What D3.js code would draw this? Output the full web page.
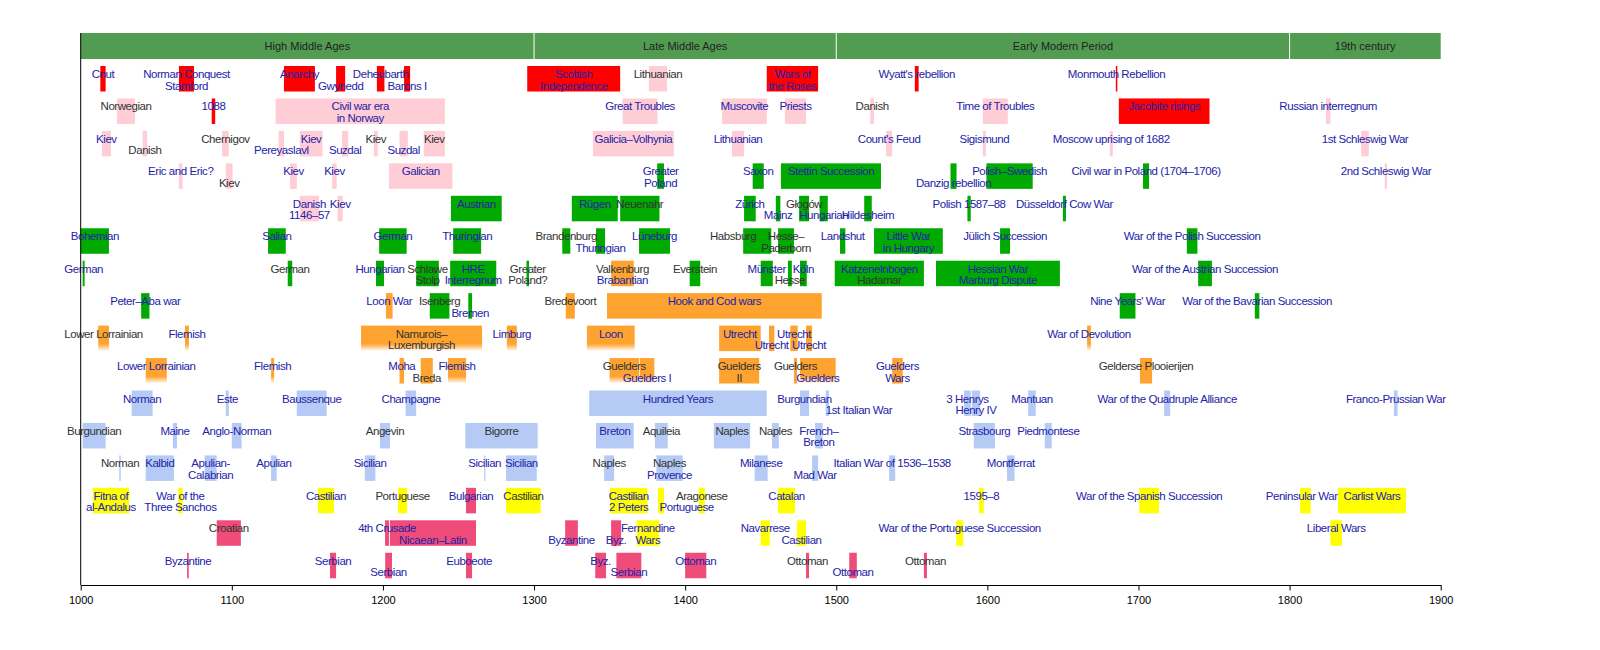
<!DOCTYPE html>
<html><head><meta charset="utf-8">
<script src="https://cdn.jsdelivr.net/npm/d3@7/dist/d3.min.js"></script>
<style>body{margin:0;background:#fff}svg{display:block}</style>
</head><body><svg id="chart" width="1600" height="650"></svg>
<script>
// ---- data ----
const periodNames = ["High Middle Ages", "Late Middle Ages", "Early Modern Period", "19th century"];
const periodStart = [1000, 1300, 1500, 1800];
const periodEnd = [1300, 1500, 1800, 1900];
const tickYears = [1000, 1100, 1200, 1300, 1400, 1500, 1600, 1700, 1800, 1900];
// each entry: [from, to, colour key, label ("|" = next line, leading "|" = second line only, "*" = plain text), optional label year]
const row01 = [
  [1013, 1016.5, "R", "Cnut"], [1065, 1075, "R", "Norman Conquest|Stamford"], [1134.5, 1155, "R", "Anarchy"],
  [1169, 1175, "R", "|Gwynedd"], [1196, 1201, "R", "Deheubarth"], [1214, 1218, "R", "|Barons I"],
  [1295.5, 1357, "R", "Scottish|Independence"], [1376, 1388, "P", "*Lithuanian"], [1454, 1488, "R", "Wars of|the Roses"],
  [1552, 1554.5, "R", "Wyatt's rebellion"], [1685, 1686, "R", "Monmouth Rebellion"]];
const row02 = [
  [1024, 1036, "P", "*Norwegian"], [1086.7, 1089, "R", "1088"], [1129, 1241, "P", "Civil war era|in Norway"],
  [1358.6, 1381.7, "P", "Great Troubles"], [1424.5, 1454, "P", "Muscovite"], [1466, 1480, "P", "Priests"],
  [1522.5, 1525, "P", "*Danish"], [1597, 1613.5, "P", "Time of Troubles"], [1687, 1747, "R", "Jacobite risings"],
  [1824, 1827, "P", "Russian interregnum"]];
const row03 = [
  [1014, 1020, "P", "Kiev"], [1041, 1044, "P", "|*Danish"], [1093.6, 1098, "P", "*Chernigov"],
  [1131, 1134.5, "P", "|Pereyaslavl"], [1145, 1160, "P", "Kiev"], [1173, 1177, "P", "|Suzdal"],
  [1194, 1196.6, "P", "*Kiev"], [1211, 1216.5, "P", "|Suzdal"], [1227, 1241, "P", "*Kiev"],
  [1339, 1392.5, "P", "Galicia–Volhynia"], [1431, 1439, "P", "Lithuanian"], [1533, 1537, "P", "Count's Feud"],
  [1597, 1599, "P", "Sigismund"], [1681, 1683, "P", "Moscow uprising of 1682"], [1847.4, 1852.4, "P", "1st Schleswig War"]];
const row04 = [
  [1065, 1067.4, "P", "Eric and Eric?"], [1096, 1100.5, "P", "|*Kiev"], [1138.6, 1143, "P", "Kiev"],
  [1166.4, 1169.4, "P", "Kiev"], [1204, 1246, "P", "Galician"], [1381.5, 1386, "G", "Greater|Poland"],
  [1444.7, 1452, "G", "Saxon"], [1463.4, 1529.6, "G", "Stettin Succession"], [1575.6, 1579.6, "G", "|Danzig rebellion"],
  [1599.4, 1630, "G", "Polish–Swedish"], [1703, 1707, "G", "Civil war in Poland (1704–1706)"],
  [1863, 1864.5, "P", "2nd Schleswig War"]];
const row05 = [
  [1145, 1157.7, "P", "Danish|1146–57"], [1170, 1173.4, "P", "Kiev"], [1245, 1278.6, "G", "Austrian"],
  [1325, 1355.4, "G", "Rügen"], [1357, 1383, "G", "*Neuenahr"], [1439, 1446.7, "G", "Zürich"],
  [1460, 1463, "G", "|Mainz"], [1475.4, 1482, "G", "*Głogów"], [1489, 1494.4, "G", "|Hungarian"],
  [1518.5, 1523.5, "G", "|Hildesheim"], [1586.8, 1589, "G", "Polish 1587–88"], [1650, 1652, "G", "Düsseldorf Cow War"]];
const row06 = [
  [1000, 1018.7, "G", "Bohemian"], [1124, 1135.7, "G", "Salian"], [1197.5, 1215.7, "G", "German"],
  [1246.5, 1265, "G", "Thuringian"], [1318.7, 1324, "G", "*Brandenburg"], [1341, 1347, "G", "|Thuringian"],
  [1369.5, 1390, "G", "Lüneburg"], [1438.4, 1457, "G", "*Habsburg", 1431.7], [1461.5, 1472, "G", "*Hesse–|*Paderborn"],
  [1502.5, 1506, "G", "Landshut"], [1525, 1570.5, "G", "Little War|in Hungary"], [1608.4, 1615, "G", "Jülich Succession"],
  [1732, 1739, "G", "War of the Polish Succession"]];
const row07 = [
  [1001.3, 1002.6, "G", "German"], [1137, 1140, "G", "*German"], [1195.4, 1200.7, "G", "Hungarian"],
  [1222, 1237, "G", "*Schlawe|*Stolp"], [1244.5, 1275, "G", "HRE|Interregnum"], [1295, 1296.7, "G", "*Greater|*Poland?"],
  [1351, 1366, "O", "*Valkenburg|Brabantian"], [1403, 1410, "G", "*Everstein"], [1450, 1458, "G", "Münster"],
  [1468, 1470.6, "G", "|*Hesse"], [1476, 1480.5, "G", "Köln"], [1499, 1558, "G", "Katzenelnbogen|*Hadamar"],
  [1566, 1648, "G", "Hessian War|Marburg Dispute"], [1739.5, 1748.6, "G", "War of the Austrian Succession"]];
const row08 = [
  [1040, 1045.5, "G", "Peter–Aba war"], [1202, 1206.4, "O", "Loon War"], [1231, 1244, "G", "*Isenberg"],
  [1256.5, 1259, "G", "|Bremen"], [1321, 1327, "O", "*Bredevoort"], [1348.3, 1490.4, "O", "Hook and Cod wars"],
  [1687.6, 1698, "G", "Nine Years' War"], [1777, 1780, "G", "War of the Bavarian Succession"]];
const row09 = [
  [1011.6, 1018.7, "Of", "*Lower Lorrainian"], [1069, 1071.6, "Of", "Flemish"],
  [1185.5, 1265.6, "Of", "*Namurois–|*Luxemburgish"], [1282, 1288.6, "Of", "Limburg"], [1335, 1366.6, "Of", "Loon"],
  [1422.5, 1450, "O", "Utrecht"], [1455.5, 1459, "O", "|Utrecht"], [1469.6, 1474.5, "O", "Utrecht"],
  [1480, 1484, "O", "|Utrecht"], [1666, 1668.5, "Of", "War of Devolution"]];
const row10 = [
  [1043, 1057, "Of", "Lower Lorrainian"], [1126, 1128, "Of", "Flemish"], [1211, 1214, "O", "Moha"],
  [1225, 1233, "O", "|*Breda"], [1243, 1255, "Of", "Flemish"], [1350, 1369.5, "Of", "*Guelders"],
  [1370, 1379.6, "Of", "|Guelders I"], [1422.5, 1449, "O", "*Guelders|*II"], [1472, 1474, "O", "*Guelders"],
  [1476, 1499.6, "Of", "|Guelders"], [1537, 1544, "O", "Guelders|Wars"], [1701, 1709, "O", "*Gelderse Plooierijen"]];
const row11 = [
  [1033.7, 1047.6, "L", "Norman"], [1096, 1098, "L", "Este"], [1143, 1162.8, "L", "Baussenque"],
  [1215, 1222, "L", "Champagne"], [1336.5, 1454, "L", "Hundred Years"], [1476, 1482, "L", "Burgundian"],
  [1493, 1495.2, "L", "|1st Italian War", 1515], [1584.6, 1589, "L", "3 Henrys"], [1589.7, 1595.2, "L", "|Henry IV"],
  [1627, 1632, "L", "Mantuan"], [1717, 1721, "L", "War of the Quadruple Alliance"], [1869, 1871.5, "L", "Franco-Prussian War"]];
const row12 = [
  [1001.3, 1016.5, "L", "*Burgundian"], [1061, 1063.7, "L", "Maine"], [1100, 1106.5, "L", "Anglo-Norman"],
  [1198, 1204.7, "L", "*Angevin"], [1254.5, 1302.4, "L", "*Bigorre"], [1341, 1366, "L", "Breton"],
  [1380, 1388.5, "L", "*Aquileia"], [1419, 1443, "L", "*Naples"], [1457.5, 1462, "L", "*Naples"],
  [1486, 1491, "L", "French–|Breton"], [1591, 1605, "L", "Strasbourg"], [1638, 1642.6, "L", "Piedmontese"]];
const row13 = [
  [1025.5, 1026.5, "L", "*Norman"], [1043, 1061.7, "L", "Kalbid"], [1082, 1090, "L", "Apulian-|Calabrian"],
  [1126, 1129.7, "L", "Apulian"], [1188, 1195, "L", "Sicilian"], [1267, 1267.6, "L", "Sicilian"],
  [1281.5, 1301.8, "L", "Sicilian"], [1346.4, 1353, "L", "*Naples"], [1381, 1398.4, "L", "*Naples|Provence"],
  [1446, 1454.6, "L", "Milanese"], [1484, 1488, "L", "|Mad War"], [1535, 1539, "L", "Italian War of 1536–1538"],
  [1613, 1618, "L", "Montferrat"]];
const row14 = [
  [1008, 1032, "Y", "Fitna of|al-Andalus"], [1064.5, 1067.5, "Y", "War of the|Three Sanchos"],
  [1157, 1167.6, "Y", "Castilian"], [1210, 1216, "Y", "*Portuguese"], [1255, 1261.6, "C", "Bulgarian"],
  [1281.5, 1304.4, "Y", "*Castilian"], [1350.3, 1375, "Y", "Castilian|2 Peters"], [1382, 1386, "Y", "|Portuguese", 1401],
  [1409, 1413, "Y", "*Aragonese"], [1461.5, 1472.7, "Y", "Catalan"], [1594.5, 1597.6, "Y", "1595–8"],
  [1700.5, 1713.6, "Y", "War of the Spanish Succession"], [1807, 1814, "Y", "Peninsular War", 1808],
  [1832, 1877, "Y", "Carlist Wars"]];
const row15 = [
  [1090, 1106, "C", "*Croatian"], [1201.4, 1204, "C", "4th Crusade"], [1204.6, 1261.6, "C", "|Nicaean–Latin"],
  [1320.6, 1329, "C", "|Byzantine"], [1351, 1357.6, "C", "|Byz."], [1368, 1382.7, "Y", "Fernandine|Wars"],
  [1450, 1456, "Y", "Navarrese"], [1474, 1480, "Y", "|Castilian"], [1579.4, 1584, "Y", "War of the Portuguese Succession"],
  [1827, 1834.7, "Y", "Liberal Wars"]];
const row16 = [
  [1070.4, 1071.5, "C", "Byzantine"], [1165, 1169, "C", "Serbian"], [1201.5, 1206, "C", "|Serbian"],
  [1255, 1259, "C", "Euboeote"], [1340.5, 1347.6, "C", "Byz."], [1354.5, 1371, "C", "|Serbian"],
  [1400, 1414, "C", "Ottoman"], [1480, 1482, "C", "*Ottoman"], [1508.6, 1513.6, "C", "|Ottoman"],
  [1558, 1560, "C", "*Ottoman"]];
const rows = [row01, row02, row03, row04, row05, row06, row07, row08, row09, row10, row11, row12, row13, row14, row15, row16];

// ---- styles ----
const palette = {R: "#ff0000", P: "#ffcdd5", G: "#00aa00", O: "#fea32f", L: "#b5cbf5", Y: "#ffff00", C: "#f04c7a"};
const linkColor = "#2323a8", plainColor = "#333333";
const font = "'Liberation Sans', Arial, sans-serif";

const svg = d3.select("#chart");
const x = d3.scaleLinear().domain([1000, 1900]).range([80.7, 1440.7]);
const rowY = d3.scaleLinear().domain([0, 1]).range([66, 98.45]);
const barH = 25.5;
const axisY = 585;

// gradient for bars fading at the bottom
const defs = svg.append("defs");
const fg = defs.append("linearGradient").attr("id", "fadeO").attr("x1", 0).attr("y1", 0).attr("x2", 0).attr("y2", 1);
fg.append("stop").attr("offset", "0").attr("stop-color", palette.O);
fg.append("stop").attr("offset", "0.72").attr("stop-color", palette.O);
fg.append("stop").attr("offset", "1").attr("stop-color", palette.O).attr("stop-opacity", 0);

// period band
const bandTop = 33, bandH = 26;
const band = svg.append("g");
periodNames.forEach((n, i) => {
  band.append("rect").attr("x", x(periodStart[i]) + (i ? 0.5 : 0)).attr("y", bandTop)
    .attr("width", x(periodEnd[i]) - x(periodStart[i]) - (i ? 0.5 : 0) - (i < 3 ? 0.5 : 0)).attr("height", bandH)
    .attr("fill", "#519c51");
  band.append("text").attr("x", (x(periodStart[i]) + x(periodEnd[i])) / 2).attr("y", bandTop + 17)
    .attr("text-anchor", "middle").attr("font-family", font).attr("font-size", 11).attr("fill", "#222")
    .text(n);
});

// bars and labels
const bars = svg.append("g");
const labels = svg.append("g").attr("font-family", font).attr("font-size", 11.5).attr("letter-spacing", "-0.45px");
rows.forEach((row, r) => {
  const top = rowY(r);
  row.forEach(d => {
    const [a, b, c, lab, ly] = d;
    const key = c[0];
    const w = Math.max(1.2, x(b) - x(a));
    bars.append("rect").attr("x", x(a)).attr("y", top).attr("width", w).attr("height", barH)
      .attr("fill", c.length > 1 ? "url(#fadeO)" : palette[key]);
    const cx = ly !== undefined ? x(ly) : (x(a) + x(b)) / 2;
    lab.split("|").forEach((t, i) => {
      if (!t) return;
      const plain = t[0] === "*";
      labels.append("text").attr("x", cx).attr("y", top + 12 + i * 11.5)
        .attr("text-anchor", "middle").attr("fill", plain ? plainColor : linkColor)
        .text(plain ? t.slice(1) : t);
    });
  });
});

// axes
svg.append("line").attr("x1", x(1000)).attr("x2", x(1000)).attr("y1", bandTop).attr("y2", axisY)
  .attr("stroke", "#000").attr("stroke-width", 1);
const axis = d3.axisBottom(x).tickValues(tickYears).tickFormat(d3.format("d")).tickSize(5.5).tickSizeOuter(0);
const ag = svg.append("g").attr("transform", `translate(0,${axisY})`).call(axis);
ag.select(".domain").attr("stroke", "#000");
ag.selectAll(".tick line").attr("stroke", "#000");
ag.selectAll(".tick text").attr("font-family", font).attr("font-size", 11).attr("fill", "#000").attr("dy", "0.95em");
</script></body></html>
